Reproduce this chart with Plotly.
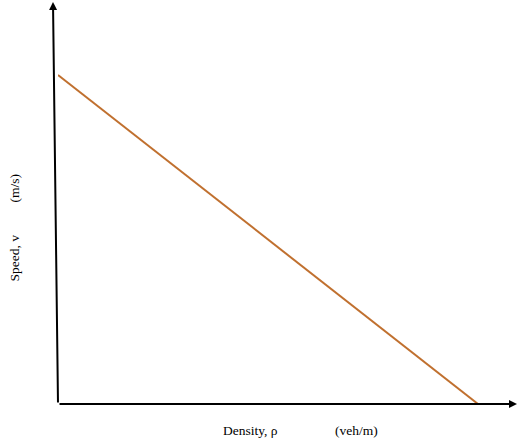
import plotly.graph_objects as go

# Greenshields speed-density relation (normalised, no tick values shown)
density = [0, 1.0]      # rho, from 0 to jam density
speed = [1.0, 0]        # v, from free-flow speed to 0

x_label = ["Density, ρ", "(veh/m)"]
y_label = ["Speed, v", "(m/s)"]

W, H = 520, 442
L, R, T, B = 58, 3, 2, 38
pw, ph = W - L - R, H - T - B

# axis ranges so the line sits where it does in the sketch
x_max = density[1] * pw / (478 - L)
y_max = speed[0] * ph / (404 - 75)

fig = go.Figure()
fig.add_trace(go.Scatter(
    x=density, y=speed, mode="lines",
    line=dict(color="#C0702F", width=2),
    hoverinfo="skip", showlegend=False,
))

font = dict(family="Liberation Serif, Times New Roman, serif", size=13.5, color="#000")

annotations = [
    # y axis arrow (slightly leaning, hand-drawn look)
    dict(x=-5 / pw, y=1, xref="paper", yref="paper", text="", showarrow=True,
         ax=5, ay=ph, axref="pixel", ayref="pixel",
         arrowhead=2, arrowsize=0.8, arrowwidth=2, arrowcolor="#000"),
    # x axis arrow
    dict(x=1, y=0, xref="paper", yref="paper", text="", showarrow=True,
         ax=-pw, ay=0, axref="pixel", ayref="pixel",
         arrowhead=2, arrowsize=0.8, arrowwidth=2, arrowcolor="#000"),
    dict(x=(250 - L) / pw, y=-(440 - 404) / ph, xref="paper", yref="paper",
         yanchor="bottom", text=x_label[0], showarrow=False, font=font),
    dict(x=(356 - L) / pw, y=-(440 - 404) / ph, xref="paper", yref="paper",
         yanchor="bottom", text=x_label[1], showarrow=False, font=font),
    dict(x=-(L - 4) / pw, y=(404 - 258) / ph, xref="paper", yref="paper",
         text=y_label[0], textangle=-90, showarrow=False, font=font),
    dict(x=-(L - 4) / pw, y=(404 - 188) / ph, xref="paper", yref="paper",
         text=y_label[1], textangle=-90, showarrow=False, font=font),
]

fig.update_layout(
    width=W, height=H,
    margin=dict(l=L, r=R, t=T, b=B),
    paper_bgcolor="white", plot_bgcolor="white",
    xaxis=dict(range=[0, x_max], visible=False, fixedrange=True),
    yaxis=dict(range=[0, y_max], visible=False, fixedrange=True),
    annotations=annotations,
)

fig.write_html("out.html", post_script="document.body.style.margin='0';",
               config={"displayModeBar": False})
